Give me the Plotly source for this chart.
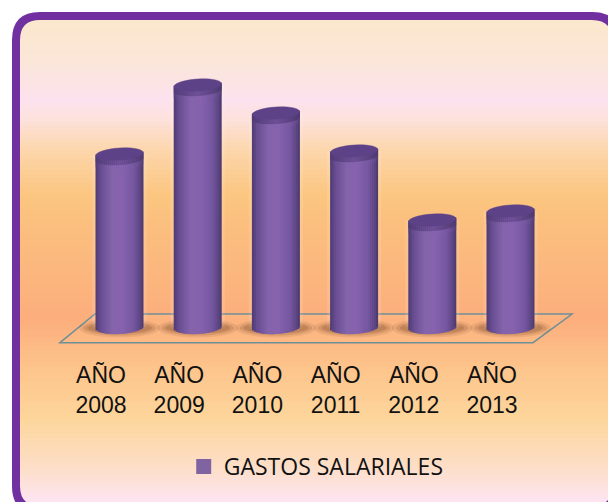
import math
import plotly.graph_objects as go

# Datos (altura de cada cilindro, sin escala visible)
anios = ["AÑO<br>2008", "AÑO<br>2009", "AÑO<br>2010", "AÑO<br>2011", "AÑO<br>2012", "AÑO<br>2013"]
gastos = [173, 242, 214, 176, 107, 116]
serie = "GASTOS SALARIALES"

W, H = 608, 502
PLOT_B = 354  # pixel y del eje x
BASE_Y = 327  # pixel y donde empiezan los cilindros
PASO = 78.2
X0 = 101  # pixel x de la primera categoria
DESPL = 18.5 / PASO  # los cilindros van corridos respecto a las etiquetas
N_TIRAS = 24
ANCHO_TIRA = 2 / PASO

# Degradado del fondo: (pixel y, color)
fondo = [(20, "#FBE8CD"), (60, "#FBE6D8"), (100, "#FCE2EE"), (118, "#FDE2DE"), (150, "#FCD6AC"),
         (195, "#FBC680"), (230, "#FBBE7E"), (320, "#FCAE7D"), (370, "#FDC58C"), (420, "#FDD69C"),
         (470, "#FDDFCB"), (498, "#FDE4EE")]

# Sombreado horizontal del cilindro: (posicion -1..1, color)
sombra_cuerpo = [(-1, "#4F3B73"), (-0.75, "#6A4F94"), (-0.3, "#8464AB"), (0.1, "#8763AE"),
                 (0.6, "#7556A0"), (0.88, "#5A4480"), (1, "#4A3769")]
sombra_fundido = [(-1, "#503B75"), (0, "#6C4E96"), (1, "#4E3A70")]


def hex_rgb(c):
    return tuple(int(c[i:i + 2], 16) for i in (1, 3, 5))


def mezcla(tabla, t):
    for (a, ca), (b, cb) in zip(tabla, tabla[1:]):
        if t <= b:
            f = max(0, (t - a) / (b - a))
            r = [round(p + (q - p) * f) for p, q in zip(hex_rgb(ca), hex_rgb(cb))]
            return "rgb(%d,%d,%d)" % tuple(r)
    return tabla[-1][1]


def px(x):
    return x / W


def py(y):
    return (PLOT_B - y) / PLOT_B


def esquina_x(y):
    # recorte del fondo en las esquinas redondeadas de la izquierda
    r = 24
    if y < 16 + r:
        d = 16 + r - y
    elif y > 510 - r:
        d = y - (510 - r)
    else:
        return 16
    return 16 + r - math.sqrt(max(0, r * r - d * d))


def tapa(cx, yc):
    # elipse de la tapa, un poco inclinada hacia la derecha
    puntos = []
    for a in range(0, 360, 10):
        c, s = math.cos(math.radians(a)), math.sin(math.radians(a))
        puntos.append((px(cx + 23.5 * c), py(yc - 1.5 * c - 6 * s)))
    return "M " + " L ".join("%f,%f" % p for p in puntos) + " Z"


fig = go.Figure()
shapes = []

# Fondo degradado hecho con franjas
for y in range(14, H, 4):
    shapes.append(dict(type="rect", xref="paper", yref="paper", layer="below",
                       x0=px(esquina_x(y + 2)), x1=1, y0=py(y + 4.5), y1=py(y),
                       fillcolor=mezcla(fondo, y + 2), line_width=0))

# Plano del suelo
shapes.append(dict(type="path", xref="paper", yref="paper", layer="below",
                   path="M %f,%f L %f,%f L %f,%f L %f,%f Z" % (
                       px(60), py(342.7), px(95), py(314), px(572), py(314), px(533), py(342.7)),
                   fillcolor="rgba(253,190,135,0.35)", line=dict(color="#6F8F98", width=1.5)))

# Sombras al pie de cada cilindro
for i in range(len(anios)):
    cx = X0 + DESPL * PASO + PASO * i
    for extra, op in [(34, 0.12), (26, 0.18), (18, 0.25)]:
        shapes.append(dict(type="circle", xref="paper", yref="paper", layer="below",
                           x0=px(cx - 23.5 - extra / 2), x1=px(cx + 23.5 + extra / 2),
                           y0=py(328 + 1 + extra / 4), y1=py(328 - 1 - extra / 4),
                           fillcolor="#7A4A28", opacity=op, line_width=0))

# Tapas de los cilindros, con un borde translucido para suavizar
for i, v in enumerate(gastos):
    cx = X0 + DESPL * PASO + PASO * i
    yc = BASE_Y - v
    shapes.append(dict(type="path", xref="paper", yref="paper", layer="above", path=tapa(cx, yc),
                       fillcolor="#5E4288", line=dict(color="rgba(94,66,136,0.45)", width=1)))

# Halo claro alrededor de los cilindros
fig.add_trace(go.Bar(x=anios, y=gastos, offset=DESPL - 27 / PASO, width=54 / PASO,
                     marker=dict(color="white", opacity=0.12, line_width=0),
                     showlegend=False, hoverinfo="skip"))

# Cada cilindro se dibuja con tiras verticales para imitar el volumen.
# Cada tira se solapa con la siguiente para que no queden rayas entre ellas.
for k in range(N_TIRAS):
    u = (k + 0.5) / N_TIRAS * 2 - 1
    s = math.sqrt(1 - u * u)
    inc = 1.5 * u
    off = DESPL - N_TIRAS / 2 * ANCHO_TIRA + k * ANCHO_TIRA
    ancho = ANCHO_TIRA * (1 if k == N_TIRAS - 1 else 1.6)
    comun = dict(x=anios, offset=off, width=ancho, showlegend=False, hoverinfo="skip")

    base = -7 * s + inc
    fig.add_trace(go.Bar(y=[v + inc - base for v in gastos], base=[base] * len(gastos),
                         marker=dict(color=mezcla(sombra_cuerpo, u), line_width=0), **comun))
    fig.add_trace(go.Bar(y=[5] * len(gastos), base=[v + inc - 6 * s - 10 for v in gastos],
                         marker=dict(color=mezcla(sombra_cuerpo, u * 0.9 - 0.05), opacity=0.5, line_width=0), **comun))
    fig.add_trace(go.Bar(y=[6 + 6 * s] * len(gastos), base=[v + inc - 6 * s - 5 for v in gastos],
                         marker=dict(color=mezcla(sombra_fundido, u), line_width=0), **comun))

# Entrada de la leyenda
fig.add_trace(go.Scatter(x=[None], y=[None], mode="markers", name=serie,
                         marker=dict(symbol="square", size=15, color="#8064A2")))

# Marco morado redondeado
shapes.append(dict(type="path", xref="paper", yref="paper", layer="above",
                   path="M %f,%f L %f,%f Q %f,%f %f,%f L %f,%f Q %f,%f %f,%f L %f,%f Q %f,%f %f,%f L %f,%f Q %f,%f %f,%f Z" % (
                       px(40), py(16), px(592), py(16), px(616), py(16), px(616), py(40),
                       px(616), py(486), px(616), py(510), px(592), py(510),
                       px(40), py(510), px(16), py(510), px(16), py(486),
                       px(16), py(40), px(16), py(16), px(40), py(16)),
                   line=dict(color="#7030A0", width=8)))

fig.update_layout(
    width=W, height=H,
    margin=dict(l=0, r=0, t=0, b=H - PLOT_B, pad=0),
    paper_bgcolor="white", plot_bgcolor="rgba(0,0,0,0)",
    barmode="overlay",
    shapes=shapes,
    showlegend=True,
    legend=dict(x=203 / W - 0.012, y=py(445), xanchor="left", yanchor="top", indentation=-12,
                bgcolor="rgba(0,0,0,0)", font=dict(family="Open Sans", size=23, color="#111111"),
                itemwidth=30),
)
fig.update_xaxes(type="category", categoryorder="array", categoryarray=anios,
                 range=[-X0 / PASO, (W - X0) / PASO], showgrid=False, zeroline=False, showline=False,
                 ticks="", tickangle=0, ticklabelstandoff=5,
                 tickfont=dict(family="Liberation Sans", size=23, color="#111111"))
fig.update_yaxes(range=[BASE_Y - PLOT_B, BASE_Y], visible=False, fixedrange=True)

fig.write_html("out.html", config=dict(displayModeBar=False),
               post_script="document.body.style.margin='0';")
